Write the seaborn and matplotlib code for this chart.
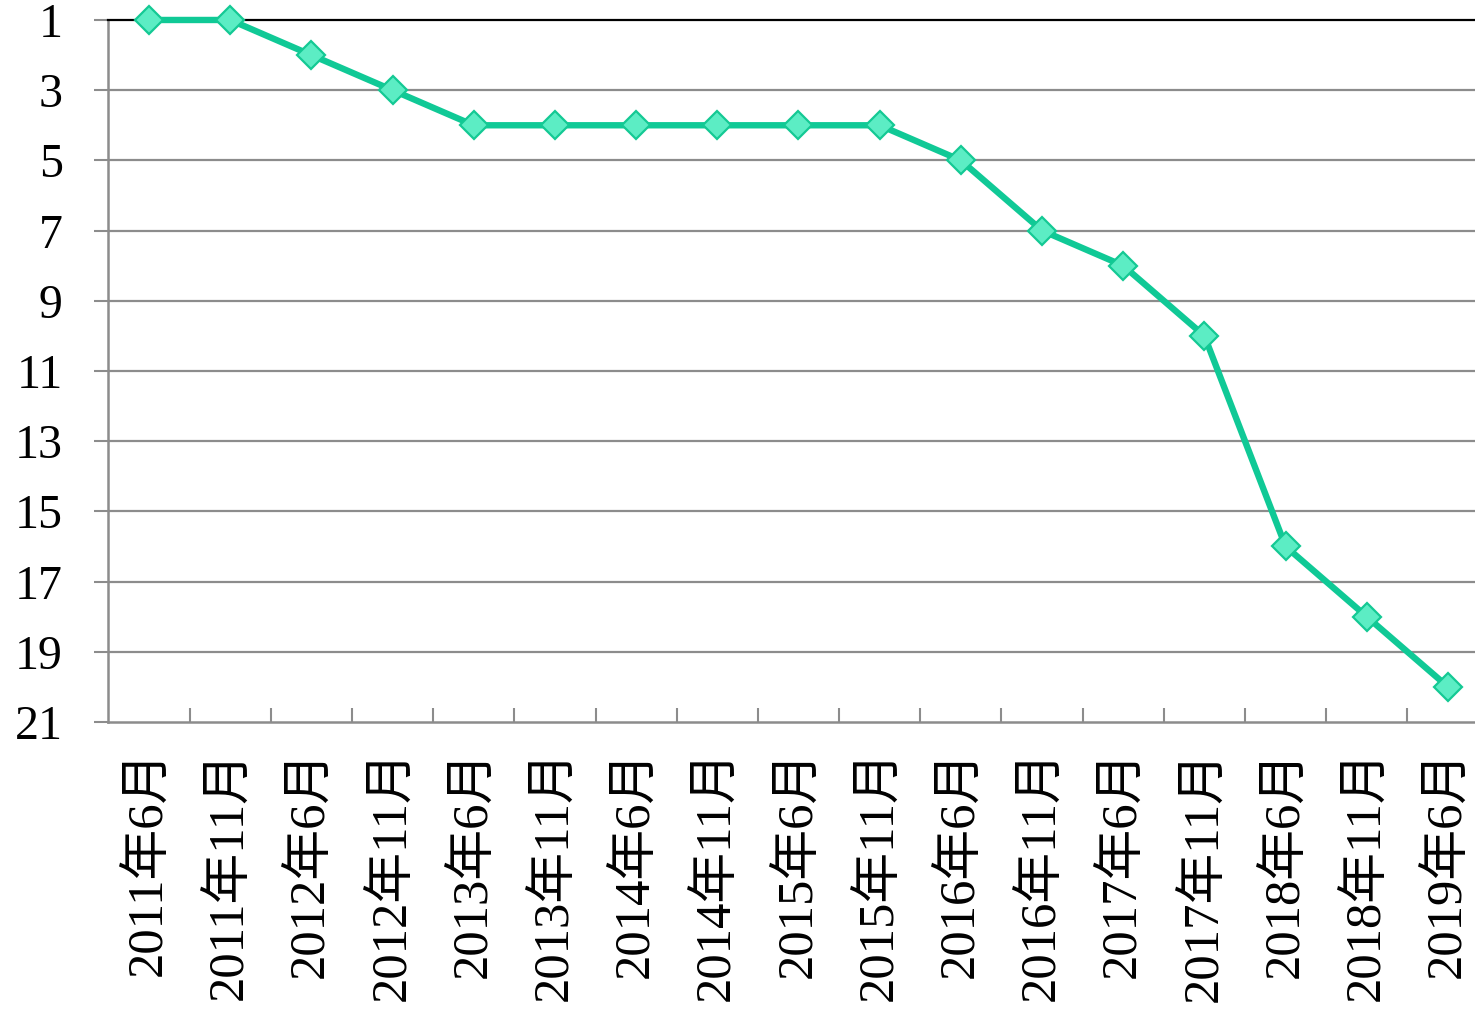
import matplotlib
matplotlib.use("Agg")
import matplotlib.pyplot as plt
import seaborn as sns
import pandas as pd
import numpy as np

# Ranking over time (1 = top)
periods = ["2011年6月", "2011年11月", "2012年6月", "2012年11月", "2013年6月",
           "2013年11月", "2014年6月", "2014年11月", "2015年6月", "2015年11月",
           "2016年6月", "2016年11月", "2017年6月", "2017年11月", "2018年6月",
           "2018年11月", "2019年6月"]
ranks = [1, 1, 2, 3, 4, 4, 4, 4, 4, 4, 5, 7, 8, 10, 16, 18, 20]
y_ticks = [1, 3, 5, 7, 9, 11, 13, 15, 17, 19, 21]

sns.set_theme(style="white")
plt.rcParams["font.family"] = ["Liberation Serif", "Noto Sans CJK SC"]
plt.rcParams["text.color"] = "black"
plt.rcParams["xtick.labelcolor"] = "black"
plt.rcParams["ytick.labelcolor"] = "black"

df = pd.DataFrame({"pos": np.arange(len(periods)), "rank": ranks})

fig = plt.figure(figsize=(14.75, 10.14), dpi=100)
ax = fig.add_axes([0.0735, 0.2880, 0.9357, 0.6923])

line_color = "#10C996"
sns.lineplot(data=df, x="pos", y="rank", ax=ax, color=line_color, linewidth=4.6,
             marker="D", markersize=14.5, markerfacecolor="#5CEDC4",
             markeredgecolor="#14C994", markeredgewidth=1.6, clip_on=False,
             zorder=5)

ax.set_xlim(-0.5, len(periods) - 0.5)
ax.set_ylim(21, 1)

grid_color = "#8C8C8C"
for v in y_ticks[1:-1]:
    ax.axhline(v, color=grid_color, linewidth=1.6, zorder=1)

ax.set_yticks(y_ticks)
ax.set_yticklabels([str(v) for v in y_ticks], fontsize=34.5, color="black")
ax.tick_params(axis="y", which="major", direction="out", length=10, width=1.5,
               color=grid_color, pad=23, left=True)

ax.set_xticks(np.arange(len(periods)))
ax.set_xticklabels(periods, rotation=90, fontsize=36.5, va="top", ha="center",
                   color="black")
ax.tick_params(axis="x", which="major", length=0, pad=20)
ax.set_xticks(np.arange(len(periods) - 1) + 0.5, minor=True)
ax.tick_params(axis="x", which="minor", direction="in", length=10, width=1.5,
               color=grid_color, bottom=True)

ax.set_xlabel("")
ax.set_ylabel("")

for side in ["left", "bottom"]:
    ax.spines[side].set_color(grid_color)
    ax.spines[side].set_linewidth(1.8)
ax.spines["top"].set_color("black")
ax.spines["top"].set_linewidth(1.6)
ax.spines["right"].set_visible(False)

fig.savefig("out.png", dpi=100)
